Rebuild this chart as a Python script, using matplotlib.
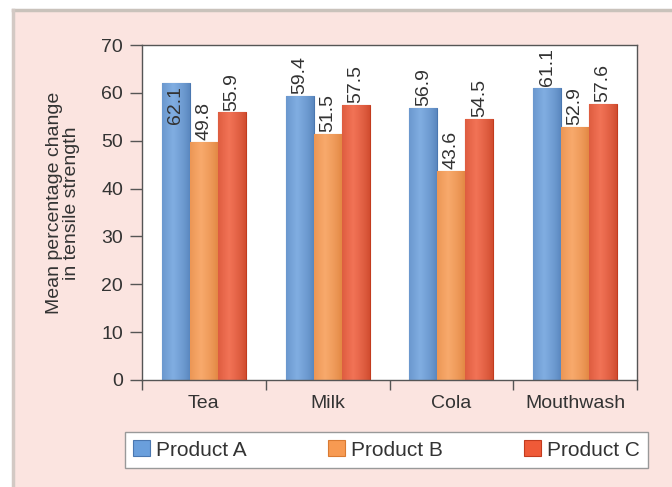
import numpy as np
import matplotlib.pyplot as plt
from matplotlib.colors import to_rgb
from matplotlib.patches import Rectangle
from matplotlib.lines import Line2D

# data
drinks = ['Tea', 'Milk', 'Cola', 'Mouthwash']
products = ['Product A', 'Product B', 'Product C']
product_a = [62.1, 59.4, 56.9, 61.1]
product_b = [49.8, 51.5, 43.6, 52.9]
product_c = [55.9, 57.5, 54.5, 57.6]
y_ticks = [0, 10, 20, 30, 40, 50, 60, 70]

bar_colors = ['#6a9fdc', '#f79a52', '#ef5a38']
edge_colors = ['#4a77b0', '#d97a32', '#c23b1e']

plt.rcParams['font.family'] = ['Liberation Sans', 'DejaVu Sans']

fig = plt.figure(figsize=(6.72, 4.87), dpi=100, facecolor='white')

# pink panel behind everything
fig.patches.append(Rectangle((13 / 672, 0), 1, 1 - 10 / 487, transform=fig.transFigure,
                             facecolor='#fbe4e0', edgecolor='none', zorder=-10))
fig.lines.append(Line2D([13 / 672, 1], [1 - 10 / 487] * 2, transform=fig.transFigure,
                        color='#c9c2bb', lw=2.5, zorder=-5))
fig.lines.append(Line2D([13 / 672] * 2, [0, 1 - 10 / 487], transform=fig.transFigure,
                        color='#d3c9c4', lw=2.5, zorder=-5))

ax = fig.add_axes([142 / 672, 1 - 380 / 487, 495 / 672, 335 / 487])
ax.set_facecolor('white')

x = np.arange(len(drinks))
width = 0.226
series = [product_a, product_b, product_c]


def shaded(color, edge):
    # cylinder-like horizontal shading for one bar
    c = np.array(to_rgb(color))
    e = np.array(to_rgb(edge))
    light = c + (1 - c) * 0.15
    t = np.linspace(0, 1, 40)
    w = np.clip(1 - np.abs(t - 0.4) / 0.7, 0, 1) ** 0.6
    img = e[None, :] * (1 - w[:, None]) + light[None, :] * w[:, None]
    return img[None, :, :]


for i, vals in enumerate(series):
    pos = x + (i - 1) * width
    bars = ax.bar(pos, vals, width, color=bar_colors[i], edgecolor=edge_colors[i],
                  linewidth=0.8, label=products[i], zorder=2)
    for b, v in zip(bars, vals):
        im = ax.imshow(shaded(bar_colors[i], edge_colors[i]), aspect='auto',
                       extent=[b.get_x(), b.get_x() + b.get_width(), 0, v], zorder=2.5)
        im.set_clip_path(b)
        if v > 62:
            ax.text(b.get_x() + b.get_width() / 2, v - 0.6, f'{v:.1f}', rotation=90,
                    ha='center', va='top', fontsize=14, color='#333333', zorder=4)
        else:
            ax.text(b.get_x() + b.get_width() / 2, v + 0.4, f'{v:.1f}', rotation=90,
                    ha='center', va='bottom', fontsize=14, color='#333333', zorder=4,
                    clip_on=True)

ax.set_xlim(-0.5, len(drinks) - 0.5)
ax.set_ylim(0, 70)
ax.set_yticks(y_ticks)
ax.set_xticks(x)
ax.set_xticklabels(drinks)
ax.set_xticks(np.arange(len(drinks) + 1) - 0.5, minor=True)
ax.tick_params(axis='x', which='major', length=0, pad=11, labelsize=14, labelcolor='#333333')
ax.tick_params(axis='x', which='minor', length=7, width=1, color='#555555', direction='out')
ax.tick_params(axis='y', length=8.5, width=1, color='#555555', labelsize=14,
               labelcolor='#333333', pad=5)
for s in ax.spines.values():
    s.set_color('#555555')
    s.set_linewidth(1)

ax.set_ylabel('Mean percentage change\nin tensile strength', fontsize=14,
              color='#333333', linespacing=0.95)
ax.yaxis.set_label_coords(-0.126, 0.528)

fig.legend(loc='lower left', bbox_to_anchor=(125 / 672, 1 - 468 / 487, 523 / 672, 38 / 487),
           mode='expand', ncol=3, fontsize=15, frameon=True, fancybox=False,
           edgecolor='#999999', facecolor='white', framealpha=1,
           handlelength=0.8, handleheight=0.8, handletextpad=0.3, borderaxespad=0,
           borderpad=0.4, labelcolor='#333333')

fig.savefig('out.png', dpi=100, facecolor=fig.get_facecolor())
